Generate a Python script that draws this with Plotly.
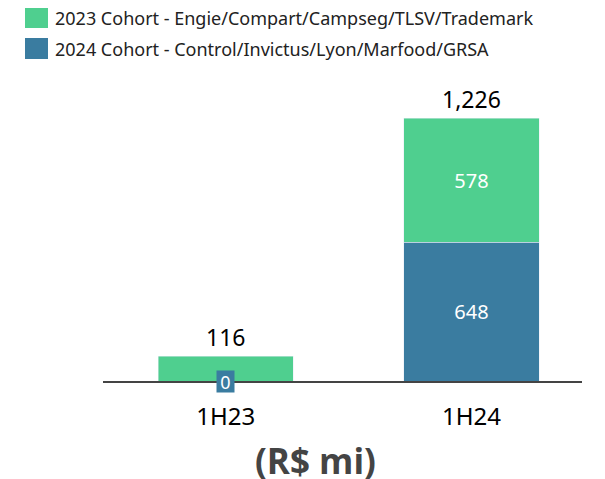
import plotly.graph_objects as go

categories = ["1H23", "1H24"]
cohort_2024 = [0, 648]
cohort_2023 = [116, 578]
series_names = ["2023 Cohort - Engie/Compart/Campseg/TLSV/Trademark",
                "2024 Cohort - Control/Invictus/Lyon/Marfood/GRSA"]
unit_label = "(R$ mi)"

GREEN = "#4FCF8F"
BLUE = "#3A7CA0"
FONT = "Noto Sans"

totals = [a + b for a, b in zip(cohort_2024, cohort_2023)]

# page has an 8px body margin; plot area target in page px: x 103..582, y 90..381
OFF = 8
PL, PR, PT, PB = 103, 582, 90, 381
W, H = 605, 479


def px(x):
    return (x - PL) / (PR - PL)


def py(y):
    return (PB - y) / (PB - PT)


fig = go.Figure()
fig.add_trace(go.Bar(
    x=categories, y=cohort_2024, name=series_names[1], marker_color=BLUE,
    text=[f"{v:,}" if v > 200 else "" for v in cohort_2024],
    textposition="inside", insidetextanchor="middle",
    textfont=dict(color="white", size=20, family=FONT), width=0.55,
    showlegend=False))
fig.add_trace(go.Bar(
    x=categories, y=cohort_2023, name=series_names[0], marker_color=GREEN,
    text=[f"{v:,}" if v > 200 else "" for v in cohort_2023],
    textposition="inside", insidetextanchor="middle",
    textfont=dict(color="white", size=20, family=FONT), width=0.55,
    showlegend=False))

# totals
for c, t in zip(categories, totals):
    fig.add_annotation(x=c, y=t, text=f"{t:,}", showarrow=False, yanchor="bottom",
                       yshift=1, font=dict(size=23, color="black", family=FONT))
# zero labels
for c, v in zip(categories, cohort_2024):
    if v == 0:
        fig.add_annotation(x=c, y=v, text="0", showarrow=False, yanchor="middle",
                           bgcolor=BLUE, borderpad=0, width=17, height=21,
                           font=dict(size=18, color="white", family=FONT))

# custom legend
legend_items = [(series_names[0], GREEN), (series_names[1], BLUE)]
for i, (name, col) in enumerate(legend_items):
    y0 = 7 + i * 31
    fig.add_shape(type="rect", xref="paper", yref="paper",
                  x0=px(25), x1=px(48), y0=py(y0), y1=py(y0 + 21),
                  fillcolor=col, line_width=0)
    fig.add_annotation(xref="paper", yref="paper", x=px(53),
                       y=py(y0 + 10.5), xanchor="left", yanchor="middle",
                       text=name, showarrow=False,
                       font=dict(size=18, color="#222", family=FONT))

fig.add_annotation(xref="paper", yref="paper", x=px(315),
                   y=py(460), xanchor="center", yanchor="middle",
                   text=f"<b>{unit_label}</b>", showarrow=False,
                   font=dict(size=35, color="#444", family="Open Sans"))

fig.update_layout(
    barmode="stack", width=W, height=H,
    margin=dict(l=PL - OFF, r=W - PR + OFF, t=PT - OFF, b=H - PB + OFF),
    plot_bgcolor="white", paper_bgcolor="white",
    xaxis=dict(range=[-0.5, 1.45], showline=True, linecolor="#444", linewidth=1.5,
               ticks="", ticklabelstandoff=13,
               tickfont=dict(size=24, color="black", family=FONT),
               showgrid=False),
    yaxis=dict(range=[0, 1356.6], visible=False, showgrid=False, zeroline=False),
)
fig.write_html("out.html")
